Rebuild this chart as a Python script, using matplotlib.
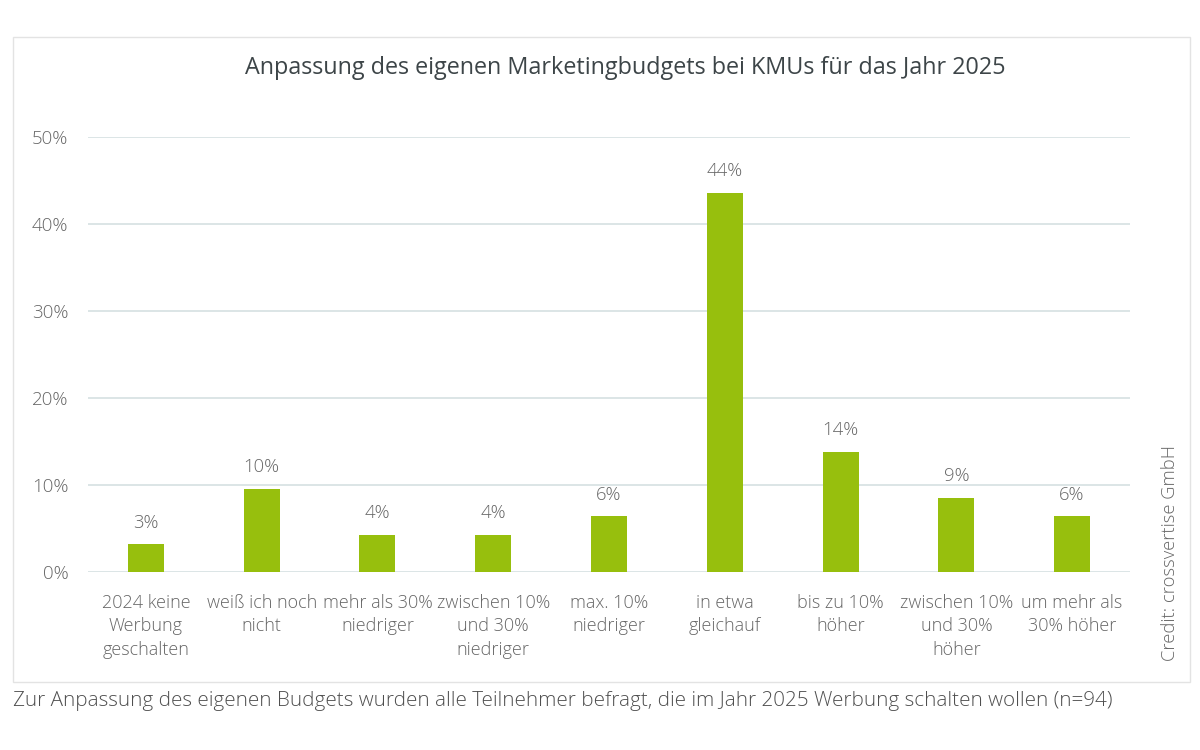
import matplotlib
matplotlib.use("Agg")
import matplotlib.pyplot as plt
from matplotlib.patches import Rectangle

categories = ["2024 keine\nWerbung\ngeschalten", "weiß ich noch\nnicht", "mehr als 30%\nniedriger",
              "zwischen 10%\nund 30%\nniedriger", "max. 10%\nniedriger", "in etwa\ngleichauf",
              "bis zu 10%\nhöher", "zwischen 10%\nund 30%\nhöher", "um mehr als\n30% höher"]
values = [3.19, 9.57, 4.26, 4.26, 6.38, 43.62, 13.83, 8.51, 6.38]
labels = ["3%", "10%", "4%", "4%", "6%", "44%", "14%", "9%", "6%"]
yticks = [0, 10, 20, 30, 40, 50]

plt.rcParams['font.family'] = ['Open Sans', 'DejaVu Sans']
plt.rcParams['font.weight'] = 'light'
txt = "#666666"
fig = plt.figure(figsize=(12, 7.5), dpi=100)
fig.patches.append(Rectangle((13/1200, 1-682/750), (1190-13)/1200, (682-37)/750,
                             transform=fig.transFigure, fill=False, edgecolor="#e3e3e3", lw=1))
ax = fig.add_axes([88/1200, 1-572/750, (1130-88)/1200, (572-137)/750])
x = range(len(values))
ax.bar(x, values, width=0.31, color="#97bf0d", zorder=3)
for xi, v, l in zip(x, values, labels):
    ax.text(xi, v + 1.45, l, ha="center", va="bottom", fontsize=13.3, color=txt)
ax.set_xlim(-0.5, len(values) - 0.5)
ax.set_ylim(0, 50)
ax.set_yticks(yticks)
ax.set_yticklabels([f"{t}%" for t in yticks], fontsize=13.5, color=txt)
ax.set_xticks(list(x))
ax.set_xticklabels(categories, fontsize=13, color=txt, linespacing=1.42)
ax.tick_params(axis="both", length=0)
ax.tick_params(axis="x", pad=15.5)
ax.tick_params(axis="y", pad=14)
ax.grid(axis="y", color="#d9e3e4", lw=1.3, zorder=0)
for s in ax.spines.values():
    s.set_visible(False)
fig.text(625/1200, 1-68/750, "Anpassung des eigenen Marketingbudgets bei KMUs für das Jahr 2025",
         ha="center", va="center", fontsize=16.8, color="#3d4548", fontweight="normal")
fig.text(1170/1200, 1-553/750, "Credit: crossvertise GmbH", rotation=90, ha="center", va="center",
         fontsize=13.2, color=txt)
fig.text(13/1200, 1-701/750, "Zur Anpassung des eigenen Budgets wurden alle Teilnehmer befragt, die im Jahr 2025 Werbung schalten wollen (n=94)",
         ha="left", va="center", fontsize=14.85, color="#4f4f4f")
fig.savefig("out.png", dpi=100)
